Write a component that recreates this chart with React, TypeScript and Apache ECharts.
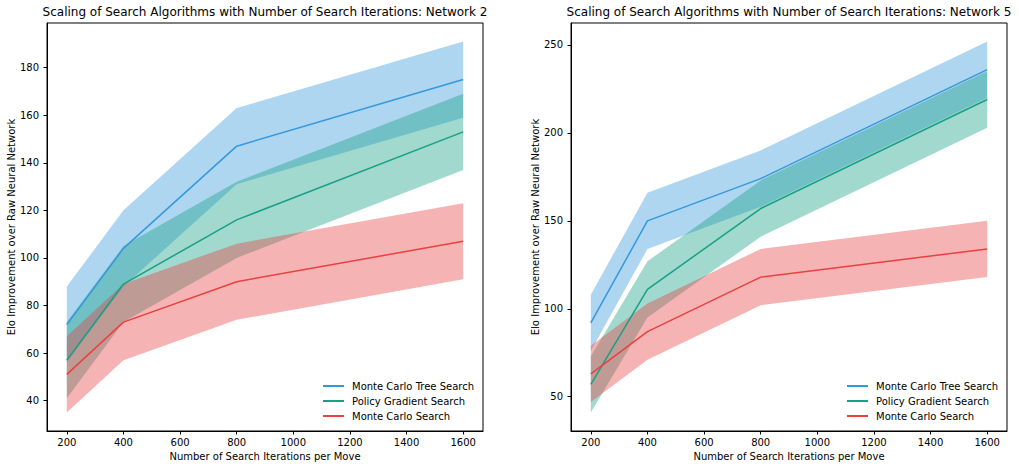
import React, { useEffect, useRef } from "react";
import * as echarts from "echarts";

const iterations = [200, 400, 800, 1600];
const xTicks = [200, 400, 600, 800, 1000, 1200, 1400, 1600];
const yTicksLeft = [40, 60, 80, 100, 120, 140, 160, 180];
const yTicksRight = [50, 100, 150, 200, 250];

const seriesNames = ["Monte Carlo Tree Search", "Policy Gradient Search", "Monte Carlo Search"];
const lineColors = ["#3498db", "#16a085", "#e94040"];
const fillColors = ["rgba(52,152,219,0.4)", "rgba(22,160,133,0.4)", "rgba(233,64,64,0.4)"];

// Network 2
const n2Mcts = [72, 104, 147, 175];
const n2MctsLow = [56, 88, 131, 159];
const n2MctsHigh = [88, 120, 163, 191];
const n2Pgs = [57, 89, 116, 153];
const n2PgsLow = [41, 73, 100, 137];
const n2PgsHigh = [73, 105, 132, 169];
const n2Mcs = [51, 73, 90, 107];
const n2McsLow = [35, 57, 74, 91];
const n2McsHigh = [67, 89, 106, 123];

// Network 5
const n5Mcts = [92, 150, 174, 236];
const n5MctsLow = [76, 134, 158, 220];
const n5MctsHigh = [108, 166, 190, 252];
const n5Pgs = [57, 111, 157, 219];
const n5PgsLow = [41, 95, 141, 203];
const n5PgsHigh = [73, 127, 173, 235];
const n5Mcs = [63, 87, 118, 134];
const n5McsLow = [47, 71, 102, 118];
const n5McsHigh = [79, 103, 134, 150];

const FONT = "DejaVu Sans";

function bandSeries(name: string, idx: number, color: string, low: number[], high: number[]) {
  return {
    type: "custom",
    name,
    xAxisIndex: idx,
    yAxisIndex: idx,
    silent: true,
    data: iterations.map((x, i) => [x, low[i], high[i]]),
    encode: { x: 0, y: [1, 2] },
    renderItem: (params: any, api: any) => {
      if (params.dataIndex !== 0) return null;
      const pts: number[][] = [];
      for (let i = 0; i < iterations.length; i++) pts.push(api.coord([iterations[i], high[i]]));
      for (let i = iterations.length - 1; i >= 0; i--) pts.push(api.coord([iterations[i], low[i]]));
      return { type: "polygon", shape: { points: pts }, style: { fill: color, stroke: "none" } };
    },
  };
}

function lineSeries(name: string, idx: number, color: string, vals: number[]) {
  return {
    type: "line",
    name,
    xAxisIndex: idx,
    yAxisIndex: idx,
    showSymbol: false,
    symbol: "none",
    data: iterations.map((x, i) => [x, vals[i]]),
    lineStyle: { color, width: 1.5 },
    itemStyle: { color },
  };
}

export default function App() {
  const ref = useRef<HTMLDivElement>(null);
  useEffect(() => {
    if (!ref.current) return;
    const chart = echarts.init(ref.current, null, { renderer: "svg" });
    const axisText = { fontFamily: FONT, fontSize: 10, color: "#000" };
    const mkX = (idx: number) => ({
      type: "value",
      gridIndex: idx,
      min: 130,
      max: 1670,
      splitLine: { show: false },
      axisLine: { show: true, lineStyle: { color: "#000", width: 1 } },
      axisTick: { show: true, inside: false, length: 3.5, lineStyle: { color: "#000" }, customValues: xTicks },
      axisLabel: { ...axisText, margin: 6, customValues: xTicks, formatter: (v: number) => String(v) },
      name: "Number of Search Iterations per Move",
      nameLocation: "middle",
      nameGap: 19,
      nameTextStyle: axisText,
    });
    const mkY = (idx: number, min: number, max: number, ticks: number[]) => ({
      type: "value",
      gridIndex: idx,
      min,
      max,
      splitLine: { show: false },
      axisLine: { show: true, lineStyle: { color: "#000", width: 1 } },
      axisTick: { show: true, inside: false, length: 3.5, lineStyle: { color: "#000" }, customValues: ticks },
      axisLabel: { ...axisText, margin: 8, customValues: ticks, formatter: (v: number) => String(v) },
      name: "Elo Improvement over Raw Neural Network",
      nameLocation: "middle",
      nameGap: 31,
      nameTextStyle: axisText,
    });
    const legendCommon = {
      orient: "vertical",
      icon: "rect",
      itemWidth: 21,
      itemHeight: 2,
      itemGap: 3,
      padding: 0,
      selectedMode: false,
      data: seriesNames,
      textStyle: { fontFamily: FONT, fontSize: 10, color: "#000", lineHeight: 12, padding: [0, 0, 0, 3] },
    };
    chart.setOption({
      animation: false,
      backgroundColor: "#fff",
      title: [
        {
          text: "Scaling of Search Algorithms with Number of Search Iterations: Network 2",
          left: 265,
          top: 6,
          textAlign: "center",
          padding: 0,
          textStyle: { fontFamily: FONT, fontSize: 12, fontWeight: "normal", color: "#000" },
        },
        {
          text: "Scaling of Search Algorithms with Number of Search Iterations: Network 5",
          left: 789,
          top: 6,
          textAlign: "center",
          padding: 0,
          textStyle: { fontFamily: FONT, fontSize: 12, fontWeight: "normal", color: "#000" },
        },
      ],
      grid: [
        { left: 47, top: 23, width: 436, height: 408, show: true, borderColor: "#000", borderWidth: 1, backgroundColor: "transparent" },
        { left: 571, top: 23, width: 436, height: 408, show: true, borderColor: "#000", borderWidth: 1, backgroundColor: "transparent" },
      ],
      xAxis: [mkX(0), mkX(1)],
      yAxis: [mkY(0, 27.2, 198.8, yTicksLeft), mkY(1, 30.5, 262.5, yTicksRight)],
      legend: [
        { ...legendCommon, left: 323, top: 380 },
        { ...legendCommon, left: 847, top: 380 },
      ],
      series: [
        lineSeries(seriesNames[0], 0, lineColors[0], n2Mcts),
        bandSeries("n2-mcts-band", 0, fillColors[0], n2MctsLow, n2MctsHigh),
        lineSeries(seriesNames[1], 0, lineColors[1], n2Pgs),
        bandSeries("n2-pgs-band", 0, fillColors[1], n2PgsLow, n2PgsHigh),
        lineSeries(seriesNames[2], 0, lineColors[2], n2Mcs),
        bandSeries("n2-mcs-band", 0, fillColors[2], n2McsLow, n2McsHigh),
        lineSeries(seriesNames[0], 1, lineColors[0], n5Mcts),
        bandSeries("n5-mcts-band", 1, fillColors[0], n5MctsLow, n5MctsHigh),
        lineSeries(seriesNames[1], 1, lineColors[1], n5Pgs),
        bandSeries("n5-pgs-band", 1, fillColors[1], n5PgsLow, n5PgsHigh),
        lineSeries(seriesNames[2], 1, lineColors[2], n5Mcs),
        bandSeries("n5-mcs-band", 1, fillColors[2], n5McsLow, n5McsHigh),
      ],
    });
    return () => chart.dispose();
  }, []);
  return <div ref={ref} style={{ position: "fixed", left: 0, top: 0, width: 1019, height: 469 }} />;
}
